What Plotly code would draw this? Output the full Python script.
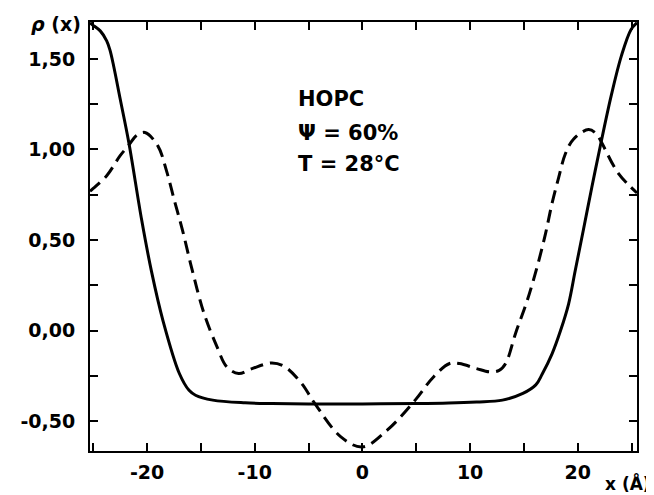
import plotly.graph_objects as go

# ---- data ----
solid_x = [-25.3, -25.1, -24.35, -23.75, -23.45, -23.1, -22.5, -21.7, -20.5, -19.6, -18.5,
           -17.0, -16.1, -15.5, -13.9, -10.9, -8.4, -5.0, 0.0, 5.0, 8.0, 10.6, 13.0,
           14.9, 16.1, 16.7, 17.6, 18.4, 19.15, 19.76, 20.5, 21.3, 22.06, 23.1, 24.05, 24.95, 25.5]
solid_y = [1.70, 1.69, 1.655, 1.60, 1.55, 1.46, 1.28, 1.04, 0.61, 0.33, 0.05,
           -0.237, -0.33, -0.357, -0.384, -0.399, -0.403, -0.405, -0.405, -0.403, -0.40, -0.394, -0.384,
           -0.347, -0.30, -0.24, -0.13, 0.0, 0.148, 0.33, 0.55, 0.79, 1.01, 1.296, 1.517, 1.663, 1.70]

dash_x = [-25.3, -25.1, -23.75, -22.5, -21.75, -21.0, -20.2, -19.0, -18.2, -17.46, -16.7,
          -15.8, -14.7, -13.5, -12.6, -11.5, -10.25, -8.4, -7.2, -5.65, -4.45, -2.0, 0.0,
          2.3, 4.9, 6.6, 8.1, 9.0, 10.6, 11.8, 12.7, 13.3, 14.25, 15.3, 16.24, 17.0, 17.6,
          18.23, 18.84, 19.6, 21.0, 21.75, 22.2, 23.75, 25.5]
dash_y = [0.77, 0.78, 0.855, 0.966, 1.02, 1.076, 1.094, 1.02, 0.883, 0.718, 0.552,
          0.332, 0.093, -0.09, -0.20, -0.237, -0.21, -0.179, -0.20, -0.292, -0.40, -0.587, -0.643,
          -0.55, -0.384, -0.256, -0.182, -0.182, -0.21, -0.228, -0.22, -0.182, -0.01, 0.165, 0.355, 0.534, 0.70,
          0.846, 0.975, 1.057, 1.11, 1.085, 1.04, 0.87, 0.76]

x_tickvals = [-20, -10, 0, 10, 20]
x_ticktext = ["-20", "-10", "0", "10", "20"]
y_tickvals = [-0.5, 0.0, 0.5, 1.0, 1.5]
y_ticktext = ["-0,50", "0,00", "0,50", "1,00", "1,50"]

FONT = "DejaVu Sans"

fig = go.Figure()
fig.add_trace(go.Scatter(x=solid_x, y=solid_y, mode="lines",
                         line=dict(color="black", width=3, shape="spline", smoothing=1.0),
                         showlegend=False, hoverinfo="skip"))
fig.add_trace(go.Scatter(x=dash_x, y=dash_y, mode="lines",
                         line=dict(color="black", width=3, shape="spline", smoothing=1.0,
                                   dash="13px,7px"),
                         showlegend=False, hoverinfo="skip"))

axis_common = dict(showline=True, linecolor="black", linewidth=2, mirror="ticks",
                   ticks="inside", ticklen=8, tickwidth=2, tickcolor="black",
                   showgrid=False, zeroline=False,
                   tickfont=dict(family=FONT, size=19, color="black", weight="bold"))

fig.update_xaxes(range=[-25.3, 25.5], tickmode="array", tickvals=x_tickvals, ticktext=x_ticktext,
                 minor=dict(ticks="inside", ticklen=8, tickwidth=2, tickcolor="black", dtick=5, tick0=0),
                 ticklabelstandoff=3, **axis_common)
fig.update_yaxes(range=[-0.665, 1.704], tickmode="array", tickvals=y_tickvals, ticktext=y_ticktext,
                 minor=dict(ticks="inside", ticklen=8, tickwidth=2, tickcolor="black", dtick=0.25, tick0=0),
                 ticklabelstandoff=9, **axis_common)

# page body adds an 8px offset; plot area spans window x 83..637, y 21..451
ann_font = dict(family=FONT, size=21, color="black", weight="bold")
fig.add_annotation(text="HOPC", xref="paper", yref="paper", x=(292 - 83) / 554, y=(451 - 98) / 430,
                   xanchor="left", yanchor="middle", showarrow=False, font=ann_font)
fig.add_annotation(text="Ψ = 60%", xref="paper", yref="paper", x=(292 - 83) / 554, y=(451 - 132) / 430,
                   xanchor="left", yanchor="middle", showarrow=False, font=ann_font)
fig.add_annotation(text="T = 28°C", xref="paper", yref="paper", x=(292 - 83) / 554, y=(451 - 163) / 430,
                   xanchor="left", yanchor="middle", showarrow=False, font=ann_font)

fig.add_annotation(text="<i>ρ</i> (x)", xref="paper", yref="paper", x=(49 - 83) / 554, y=(451 - 23) / 430,
                   xanchor="center", yanchor="middle", showarrow=False,
                   font=dict(family=FONT, size=19, color="black", weight="bold"))
fig.add_annotation(text="x (Å)", xref="paper", yref="paper", x=(653 - 83) / 554, y=(451 - 483) / 430,
                   xanchor="right", yanchor="middle", showarrow=False,
                   font=dict(family=FONT, size=17, color="black", weight="bold"))

fig.update_layout(width=646, height=487, margin=dict(l=75, r=17, t=13, b=44),
                  paper_bgcolor="white", plot_bgcolor="white")

fig.write_html("out.html")
